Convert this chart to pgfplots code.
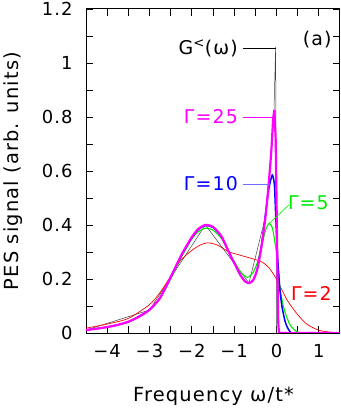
\documentclass[border=0pt]{standalone}
\usepackage{fontspec}
\setmainfont{DejaVu Sans}
\newfontfamily\labelfont[LetterSpace=6]{DejaVu Sans}
\newfontfamily\tickfont[LetterSpace=6]{DejaVu Sans}
\usepackage{pgfplots}
\pgfplotsset{compat=1.18}
\definecolor{pesmag}{RGB}{255,0,255}
\definecolor{pesblue}{RGB}{0,0,255}
\definecolor{peslblue}{RGB}{110,110,255}
\definecolor{pesgreen}{RGB}{0,235,0}
\definecolor{pesred}{RGB}{255,0,0}

\begin{document}
\begin{tikzpicture}[font=\fontsize{19}{22}\labelfont]
\begin{axis}[
  at={(86bp,75bp)}, anchor=south west,
  scale only axis, width=254bp, height=324bp,
  xmin=-4.5, xmax=1.5, ymin=0, ymax=1.2,
  xtick={-4,-3,-2,-1,0,1}, xticklabels={−4,−3,−2,−1,0,1},
  ytick={0,0.2,0.4,0.6,0.8,1,1.2}, yticklabels={0,0.2,0.4,0.6,0.8,1,1.2},
  minor x tick num=1, minor y tick num=1,
  tick align=inside, major tick length=7bp, minor tick length=7bp,
  tick style={black, line width=0.8pt},
  axis line style={line width=1pt},
  tick label style={font=\fontsize{18}{21}\tickfont},
  xticklabel style={yshift=-8bp},
  yticklabel style={xshift=-10bp},
  xlabel={Frequency ω/t*},
  ylabel={PES signal (arb. units)},
  label style={font=\fontsize{19.5}{22}\labelfont},
  xlabel style={at={(axis description cs:0.502,-0.212)}, anchor=base},
  ylabel style={at={(axis description cs:-0.266,0.5)}, anchor=base},
  every axis plot/.append style={smooth, tension=0.4},
]
% G<(omega), mostly hidden under Gamma=25
\addplot[black!75, line width=0.5pt, sharp plot] coordinates {
(-4.5,0.011) (-3,0.085) (-1.68,0.40) (-0.65,0.185) (-0.26,0.43) (-0.12,0.68)
(-0.06,0.82) (-0.02,1.06) (0.0,0.0) (1.5,0.0)};
% Gamma=2
\addplot[pesred, line width=0.7pt] coordinates {
(-4.5,0.018) (-4.0,0.033) (-3.5,0.054) (-3.0,0.105) (-2.75,0.15) (-2.5,0.21)
(-2.27,0.268) (-2.0,0.306) (-1.8,0.326) (-1.62,0.334) (-1.4,0.326) (-1.13,0.301)
(-0.9,0.29) (-0.7,0.281) (-0.5,0.272) (-0.38,0.266) (-0.26,0.254) (-0.15,0.236)
(-0.02,0.205) (0.13,0.159) (0.25,0.122) (0.37,0.095) (0.5,0.068) (0.69,0.036)
(0.88,0.018) (1.08,0.007) (1.35,0.002) (1.5,0.001)};
% Gamma=5
\addplot[pesgreen, line width=1.1pt] coordinates {
(-4.5,0.011) (-4.0,0.022) (-3.5,0.041) (-3.0,0.085) (-2.75,0.13) (-2.5,0.20)
(-2.25,0.28) (-2.0,0.348) (-1.85,0.375) (-1.68,0.388) (-1.5,0.381) (-1.3,0.35)
(-1.13,0.301) (-1.0,0.266) (-0.85,0.227) (-0.69,0.206) (-0.55,0.225) (-0.45,0.262)
(-0.34,0.33) (-0.25,0.385) (-0.17,0.406) (-0.1,0.39) (-0.05,0.35) (0.02,0.27)
(0.09,0.16) (0.15,0.108) (0.21,0.073) (0.3,0.036) (0.37,0.02) (0.45,0.008)
(0.53,0.002) (0.6,0.0) (1.5,0.0)};
% Gamma=10
\addplot[pesblue, line width=1.5pt] coordinates {
(-4.5,0.011) (-4.0,0.022) (-3.5,0.041) (-3.0,0.086) (-2.75,0.13) (-2.5,0.205)
(-2.25,0.286) (-2.0,0.353) (-1.85,0.383) (-1.68,0.398) (-1.5,0.391) (-1.3,0.357)
(-1.13,0.301) (-1.0,0.26) (-0.85,0.214) (-0.75,0.192) (-0.65,0.184) (-0.55,0.196)
(-0.45,0.24) (-0.35,0.33) (-0.26,0.44) (-0.18,0.535) (-0.1,0.585) (-0.05,0.55)
(-0.02,0.44) (0.02,0.3) (0.05,0.225) (0.08,0.16) (0.13,0.097) (0.2,0.045)
(0.25,0.023) (0.32,0.005) (0.4,0.0) (1.5,0.0)};
% Gamma=25
\addplot[pesmag, line width=2.2pt] coordinates {
(-4.5,0.011) (-4.25,0.016) (-4.0,0.022) (-3.75,0.03) (-3.5,0.042) (-3.25,0.06)
(-3.0,0.086) (-2.75,0.13) (-2.5,0.207) (-2.25,0.288) (-2.0,0.355) (-1.85,0.385)
(-1.68,0.40) (-1.5,0.393) (-1.3,0.358) (-1.13,0.301) (-1.0,0.26) (-0.85,0.214)
(-0.75,0.192) (-0.65,0.185) (-0.55,0.196) (-0.45,0.238) (-0.35,0.325) (-0.26,0.43)
(-0.18,0.56) (-0.12,0.68) (-0.08,0.79) (-0.05,0.826)};
\addplot[pesmag, line width=2.2pt, sharp plot] coordinates {
(-0.05,0.826) (-0.02,0.72) (0.0,0.5) (0.02,0.25) (0.04,0.04) (0.06,0.0) (1.5,0.0)};

% annotations
\draw[black, line width=0.6pt] (axis cs:-0.80,1.055) -- (axis cs:-0.02,1.055);
\node[anchor=east] at (axis cs:-0.83,1.055) {G\textsuperscript{<}(ω)};
\draw[pesmag, line width=0.6pt] (axis cs:-0.80,0.80) -- (axis cs:-0.09,0.80);
\node[anchor=east, text=pesmag] at (axis cs:-0.83,0.80) {Γ=25};
\draw[peslblue, line width=0.6pt] (axis cs:-0.80,0.552) -- (axis cs:-0.14,0.552);
\node[anchor=east, text=pesblue] at (axis cs:-0.83,0.552) {Γ=10};
\draw[pesgreen, line width=0.6pt] (axis cs:-0.18,0.404) -- (axis cs:0.29,0.474);
\node[anchor=west, text=pesgreen] at (axis cs:0.19,0.481) {Γ=5};
\node[anchor=west, text=pesred] at (axis cs:0.26,0.148) {Γ=2};
\node at (axis cs:0.96,1.085) {(a)};
\end{axis}
\pgfresetboundingbox
\path[use as bounding box] (0,0) rectangle (341bp,408bp);
\end{tikzpicture}
\end{document}
